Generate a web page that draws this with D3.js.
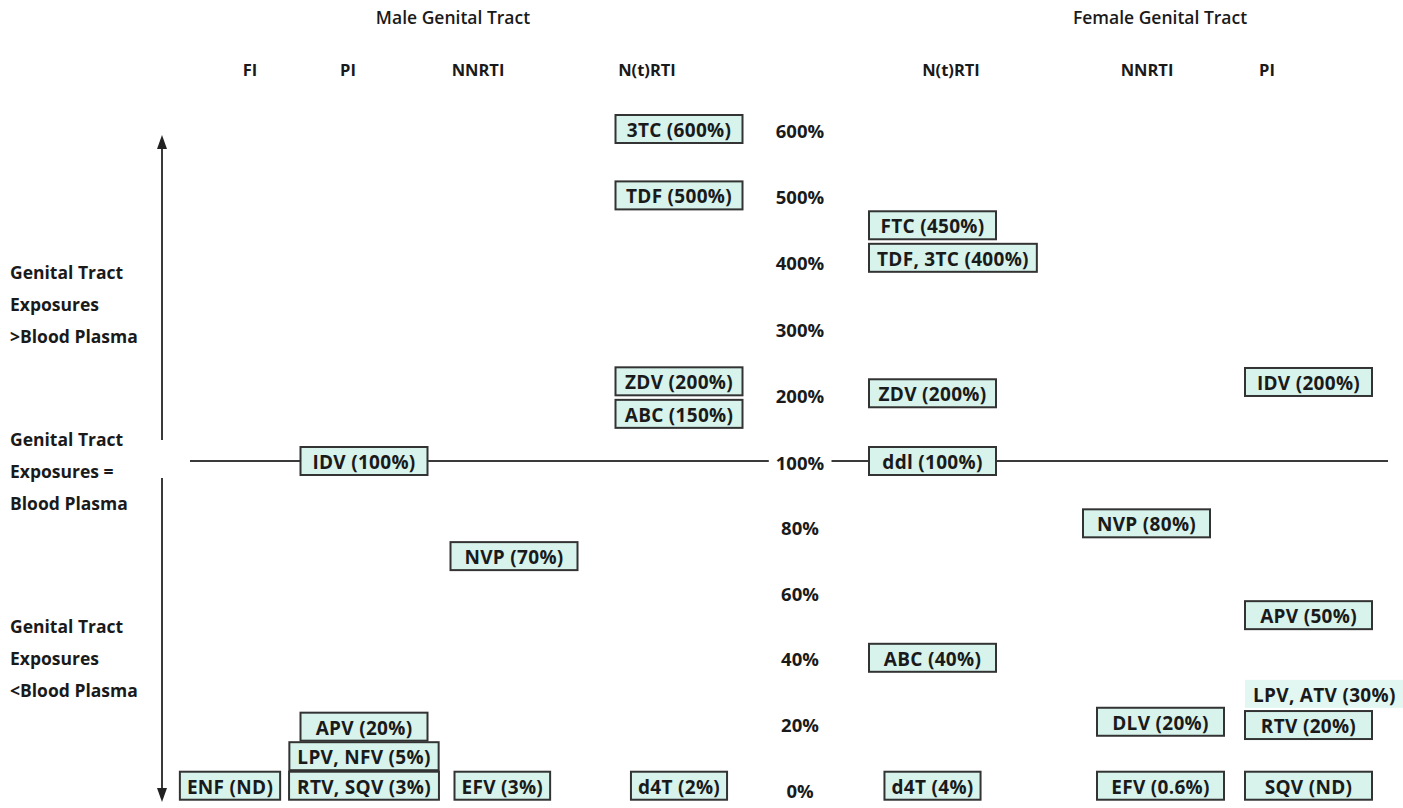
<!DOCTYPE html>
<html>
<head>
<meta charset="utf-8">
<script src="https://cdn.jsdelivr.net/npm/d3@7"></script>
<style>
  html, body { margin: 0; padding: 0; background: #fff; }
  svg { display: block; }
  text { font-family: "Open Sans", "DejaVu Sans", sans-serif; fill: #1a1a1a; }
</style>
</head>
<body>
<svg id="chart" width="1403" height="808"></svg>
<script>
// ---------------- DATA ----------------
const groupTitles = ["Male Genital Tract", "Female Genital Tract"];
const maleClasses = ["FI", "PI", "NNRTI", "N(t)RTI"];
const femaleClasses = ["N(t)RTI", "NNRTI", "PI"];
const yTickValues = [0, 20, 40, 60, 80, 100, 200, 300, 400, 500, 600];
const yTickLabels = ["0%", "20%", "40%", "60%", "80%", "100%", "200%", "300%", "400%", "500%", "600%"];
const sideLabels = [
  ["Genital Tract", "Exposures", ">Blood Plasma"],
  ["Genital Tract", "Exposures =", "Blood Plasma"],
  ["Genital Tract", "Exposures", "<Blood Plasma"]
];

// Male genital tract drugs: label, drug class, level (in % units) at which the box sits
const maleLabels = ["3TC (600%)", "TDF (500%)", "ZDV (200%)", "ABC (150%)", "IDV (100%)", "NVP (70%)",
                    "APV (20%)", "LPV, NFV (5%)", "RTV, SQV (3%)", "ENF (ND)", "EFV (3%)", "d4T (2%)"];
const maleClassOf = ["N(t)RTI", "N(t)RTI", "N(t)RTI", "N(t)RTI", "PI", "NNRTI",
                     "PI", "PI", "PI", "FI", "NNRTI", "N(t)RTI"];
const maleLevels = [600, 500, 220, 171, 100, 71, 19, 10, 1, 1, 1, 1];

// Female genital tract drugs
const femaleLabels = ["FTC (450%)", "TDF, 3TC (400%)", "ZDV (200%)", "ddl (100%)", "ABC (40%)", "d4T (4%)",
                      "NVP (80%)", "DLV (20%)", "EFV (0.6%)",
                      "IDV (200%)", "APV (50%)", "LPV, ATV (30%)", "RTV (20%)", "SQV (ND)"];
const femaleClassOf = ["N(t)RTI", "N(t)RTI", "N(t)RTI", "N(t)RTI", "N(t)RTI", "N(t)RTI",
                       "NNRTI", "NNRTI", "NNRTI",
                       "PI", "PI", "PI", "PI", "PI"];
const femaleLevels = [455, 406, 202, 100, 40, 1, 81, 20.5, 1, 219, 53, 29, 19.5, 1];

// ---------------- LAYOUT ----------------
const svg = d3.select("#chart");
const BOX_FONT = 19;
const BOX_H = 28;
const BOX_MIN_W = 127;
const compactBoxes = new Set(["ENF (ND)", "EFV (3%)", "d4T (2%)", "d4T (4%)"]);
const borderlessBoxes = new Set(["LPV, ATV (30%)"]);

// piecewise linear y scale: 0-100% stretched, 100-600% compressed
const y = d3.scaleLinear().domain([0, 100, 600]).range([789, 461, 129]);

// box anchor scales (male: centred; female: left-aligned)
const maleBoxX = d3.scaleOrdinal().domain(maleClasses).range([230, 364, 514, 679]);
const femaleBoxLeft = d3.scaleOrdinal().domain(femaleClasses).range([869, 1092, 1245]);
const maleHeadX = d3.scaleOrdinal().domain(maleClasses).range([250, 348, 478, 647]);
const femaleHeadX = d3.scaleOrdinal().domain(femaleClasses).range([951, 1147, 1267]);
const titleX = d3.scaleOrdinal().domain(groupTitles).range([453, 1160]);
const AXIS_X = 800;
const ARROW_X = 162;

// ---------------- TITLES ----------------
svg.selectAll("text.title").data(groupTitles).join("text")
  .attr("class", "title")
  .attr("x", d => titleX(d)).attr("y", 17)
  .attr("text-anchor", "middle").attr("dominant-baseline", "central")
  .attr("font-size", 17.5).attr("font-weight", 600)
  .text(d => d);

svg.selectAll("text.mhead").data(maleClasses).join("text")
  .attr("class", "mhead")
  .attr("x", d => maleHeadX(d)).attr("y", 69)
  .attr("text-anchor", "middle").attr("dominant-baseline", "central")
  .attr("font-size", 16.5).attr("font-weight", 700)
  .text(d => d);

svg.selectAll("text.fhead").data(femaleClasses).join("text")
  .attr("class", "fhead")
  .attr("x", d => femaleHeadX(d)).attr("y", 69)
  .attr("text-anchor", "middle").attr("dominant-baseline", "central")
  .attr("font-size", 16.5).attr("font-weight", 700)
  .text(d => d);

// ---------------- SIDE LABELS ----------------
const sideCenters = [y(300), y(100), y(40)];
sideLabels.forEach((lines, gi) => {
  const t = svg.append("text")
    .attr("x", 10).attr("font-size", 17.5).attr("font-weight", 700);
  lines.forEach((ln, li) => {
    t.append("tspan").attr("x", 10)
      .attr("y", sideCenters[gi] + (li - 1) * 32 + (gi === 0 ? -24 : gi === 1 ? 10 : 0))
      .attr("dominant-baseline", "central")
      .text(ln);
  });
});

// ---------------- AXIS LINES ----------------
const lineColor = "#3a3a3a";
const tickG = svg.append("g");
const tickTexts = tickG.selectAll("text").data(yTickValues).join("text")
  .attr("x", AXIS_X).attr("y", d => y(d) + 1)
  .attr("text-anchor", "middle").attr("dominant-baseline", "central")
  .attr("font-size", 18.5).attr("font-weight", 700)
  .text((d, i) => yTickLabels[i]);

// horizontal 100% line, broken around its label
const lab100 = tickTexts.filter(d => d === 100).node().getBBox();
const lineG = svg.insert("g", ":first-child");
[[190, lab100.x - 7], [lab100.x + lab100.width + 7, 1388]].forEach(([x1, x2]) => {
  lineG.append("line")
    .attr("x1", x1).attr("x2", x2).attr("y1", y(100)).attr("y2", y(100))
    .attr("stroke", lineColor).attr("stroke-width", 2);
});

// vertical double arrow, broken around the equality label
const topTip = y(600) + 6, botTip = y(0) + 13;
lineG.append("line").attr("x1", ARROW_X).attr("x2", ARROW_X)
  .attr("y1", topTip + 8).attr("y2", y(100) - 21)
  .attr("stroke", lineColor).attr("stroke-width", 2);
lineG.append("line").attr("x1", ARROW_X).attr("x2", ARROW_X)
  .attr("y1", y(100) + 17).attr("y2", botTip - 8)
  .attr("stroke", lineColor).attr("stroke-width", 2);
lineG.append("path")
  .attr("d", `M${ARROW_X},${topTip} L${ARROW_X - 5},${topTip + 14} L${ARROW_X + 5},${topTip + 14} Z`)
  .attr("fill", "#222");
lineG.append("path")
  .attr("d", `M${ARROW_X},${botTip} L${ARROW_X - 5},${botTip - 14} L${ARROW_X + 5},${botTip - 14} Z`)
  .attr("fill", "#222");

// ---------------- BOXES ----------------
const male = maleLabels.map((l, i) => ({ label: l, cls: maleClassOf[i], level: maleLevels[i], side: "M" }));
const female = femaleLabels.map((l, i) => ({ label: l, cls: femaleClassOf[i], level: femaleLevels[i], side: "F" }));
const all = male.concat(female);

// measure text widths
const meas = svg.append("text").attr("font-size", BOX_FONT).attr("font-weight", 700)
  .attr("letter-spacing", 0.3).attr("visibility", "hidden");
all.forEach(d => {
  meas.text(d.label);
  const tw = meas.node().getComputedTextLength();
  d.w = compactBoxes.has(d.label) ? tw + 14 : Math.max(BOX_MIN_W, tw + 16);
});
meas.remove();

const boxG = svg.append("g").selectAll("g").data(all).join("g")
  .attr("transform", d => {
    let left;
    if (d.side === "M") {
      left = (d.cls === "NNRTI" && compactBoxes.has(d.label)) ? maleBoxX(d.cls) - BOX_MIN_W / 2 + 4 : maleBoxX(d.cls) - d.w / 2;
    } else {
      left = femaleBoxLeft(d.cls);
      if (compactBoxes.has(d.label)) left += (BOX_MIN_W - d.w) / 2;
      if (d.cls === "NNRTI" && d.level > 50) left -= 9;
      if (d.cls === "NNRTI" && d.level <= 50) left += 5;
    }
    return `translate(${left},${y(d.level) - BOX_H / 2})`;
  });

boxG.append("rect")
  .attr("width", d => d.w).attr("height", BOX_H)
  .attr("fill", d => borderlessBoxes.has(d.label) ? "#e2f7f1" : "#d7f3ec")
  .attr("stroke", d => borderlessBoxes.has(d.label) ? "none" : "#333")
  .attr("stroke-width", 2);

boxG.append("text")
  .attr("x", d => d.w / 2).attr("y", BOX_H / 2 + 1)
  .attr("text-anchor", "middle").attr("dominant-baseline", "central")
  .attr("font-size", BOX_FONT).attr("font-weight", 700).attr("letter-spacing", 0.3)
  .text(d => d.label);
</script>
</body>
</html>
